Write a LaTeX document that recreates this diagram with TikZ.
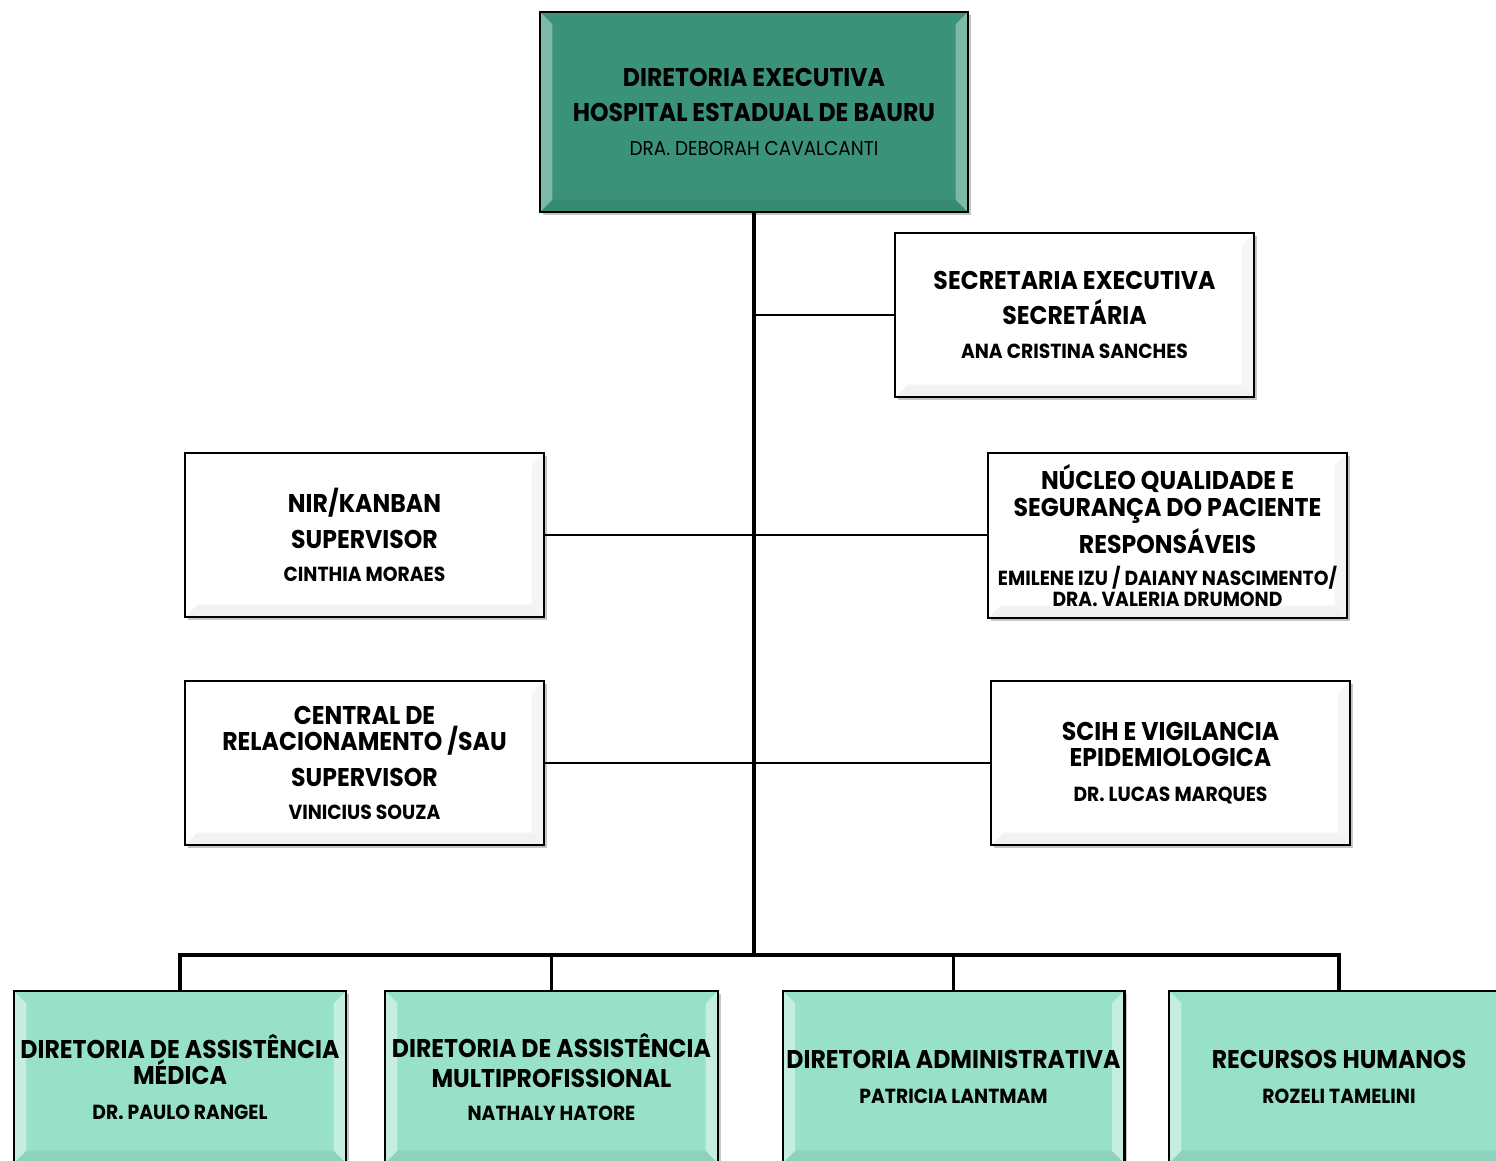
\documentclass[tikz,border=0pt]{standalone}
\usepackage{fontspec}
\setmainfont[FakeStretch=0.92]{Poppins}
\usetikzlibrary{shadows}

\definecolor{tealdark}{RGB}{58,147,121}
\definecolor{teallight}{RGB}{151,224,202}

\newcommand{\headfont}{\fontsize{14.6}{15}\selectfont\bfseries}
\newcommand{\namefont}{\fontsize{11.6}{15}\selectfont\bfseries}
\newcommand{\chieffont}{\fontsize{11.4}{15}\selectfont}

\begin{document}
\begin{tikzpicture}[x=0.02cm,y=-0.02cm]
\tikzset{
bevel/.style={path picture={
  \fill[white,opacity=#1] (path picture bounding box.north west) -- ([shift={(7pt,-7pt)}]path picture bounding box.north west) -- ([shift={(7pt,7pt)}]path picture bounding box.south west) -- (path picture bounding box.south west) -- cycle;
  \fill[white,opacity=#1] (path picture bounding box.north east) -- ([shift={(-7pt,-7pt)}]path picture bounding box.north east) -- ([shift={(-7pt,7pt)}]path picture bounding box.south east) -- (path picture bounding box.south east) -- cycle;
  \fill[black,opacity=0.06] (path picture bounding box.south west) -- ([shift={(7pt,7pt)}]path picture bounding box.south west) -- ([shift={(-7pt,7pt)}]path picture bounding box.south east) -- (path picture bounding box.south east) -- cycle;
}},
orgbox/.style={rectangle, draw=black, line width=1.6pt, align=center, inner sep=2pt,
  font=\fontsize{14.6}{15}\selectfont,
  drop shadow={shadow xshift=1.6pt, shadow yshift=-1.6pt, opacity=0.45}},
headbox/.style={orgbox, fill=tealdark, bevel=0.35, minimum width=8.56cm, minimum height=4cm},
staffbox/.style={orgbox, fill=white, minimum width=7.18cm, minimum height=3.28cm,
  path picture={\fill[black,opacity=0.05] (path picture bounding box.south west) -- ([shift={(7pt,7pt)}]path picture bounding box.south west) -- ([shift={(-7pt,7pt)}]path picture bounding box.south east) -- (path picture bounding box.south east) -- cycle;
  \fill[black,opacity=0.04] (path picture bounding box.north east) -- ([shift={(-7pt,-7pt)}]path picture bounding box.north east) -- ([shift={(-7pt,7pt)}]path picture bounding box.south east) -- (path picture bounding box.south east) -- cycle;}},
dirbox/.style={orgbox, fill=teallight, bevel=0.45, minimum height=3.44cm},
trunk/.style={line width=2.3pt},
branch/.style={line width=1.4pt},
}
\useasboundingbox (0,0) rectangle (1496,1160);

% direcao
\node [headbox] (exec) at (754,112) {\headfont DIRETORIA EXECUTIVA\\[5pt]\headfont HOSPITAL ESTADUAL DE BAURU\\[4pt]\chieffont DRA. DEBORAH CAVALCANTI};

% assessorias
\node [staffbox] (secr) at (1074.5,315) {\headfont SECRETARIA EXECUTIVA\\[5pt]\headfont SECRETÁRIA\\[4pt]\namefont ANA CRISTINA SANCHES};
\node [staffbox] (nir) at (364.5,535) {\headfont NIR/KANBAN\\[5pt]\headfont SUPERVISOR\\[4pt]\namefont CINTHIA MORAES};
\node [staffbox, below of=nir, node distance=4.56cm] (sau) {\headfont CENTRAL DE\\\headfont RELACIONAMENTO /SAU\\[5pt]\headfont SUPERVISOR\\[4pt]\namefont VINICIUS SOUZA};
\node [staffbox, minimum height=3.3cm] (nqsp) at (1167.5,535.5) {\headfont NÚCLEO QUALIDADE E\\\headfont SEGURANÇA DO PACIENTE\\[2pt]\headfont RESPONSÁVEIS\\[3pt]\namefont EMILENE IZU / DAIANY NASCIMENTO/\\[-3pt]\namefont DRA. VALERIA DRUMOND};
\node [staffbox, below of=nqsp, node distance=4.55cm, xshift=0.06cm] (scih) {\headfont SCIH E VIGILANCIA\\\headfont EPIDEMIOLOGICA\\[5pt]\namefont DR. LUCAS MARQUES};

% diretorias
\node [dirbox, minimum width=6.64cm] (dam) at (180,1077) {\headfont DIRETORIA DE ASSISTÊNCIA\\\headfont MÉDICA\\[5pt]\namefont DR. PAULO RANGEL};
\node [dirbox, minimum width=6.66cm] (dmp) at (551.5,1077) {\headfont DIRETORIA DE ASSISTÊNCIA\\[2pt]\headfont MULTIPROFISSIONAL\\[4pt]\namefont NATHALY HATORE};
\node [dirbox, minimum width=6.82cm] (dadm) at (953.5,1077) {\headfont DIRETORIA ADMINISTRATIVA\\[5pt]\namefont PATRICIA LANTMAM};
\node [dirbox, minimum width=6.8cm] (rh) at (1339,1077) {\headfont RECURSOS HUMANOS\\[5pt]\namefont ROZELI TAMELINI};

% ligacoes
\coordinate (bus) at (754,955);
\draw[trunk] (exec.south) -- (bus);
\draw[branch] (exec.south |- secr.west) -- (secr.west);
\draw[branch] (nir.east) -- (nir.east -| nqsp.west);
\draw[branch] (sau.east) -- (sau.east -| scih.west);
\draw[trunk] (dam.north) -- (dam.north |- bus) -- (rh.north |- bus) -- (rh.north);
\draw[branch] (bus -| dmp.north) -- (dmp.north);
\draw[branch] (bus -| dadm.north) -- (dadm.north);
\end{tikzpicture}
\end{document}
